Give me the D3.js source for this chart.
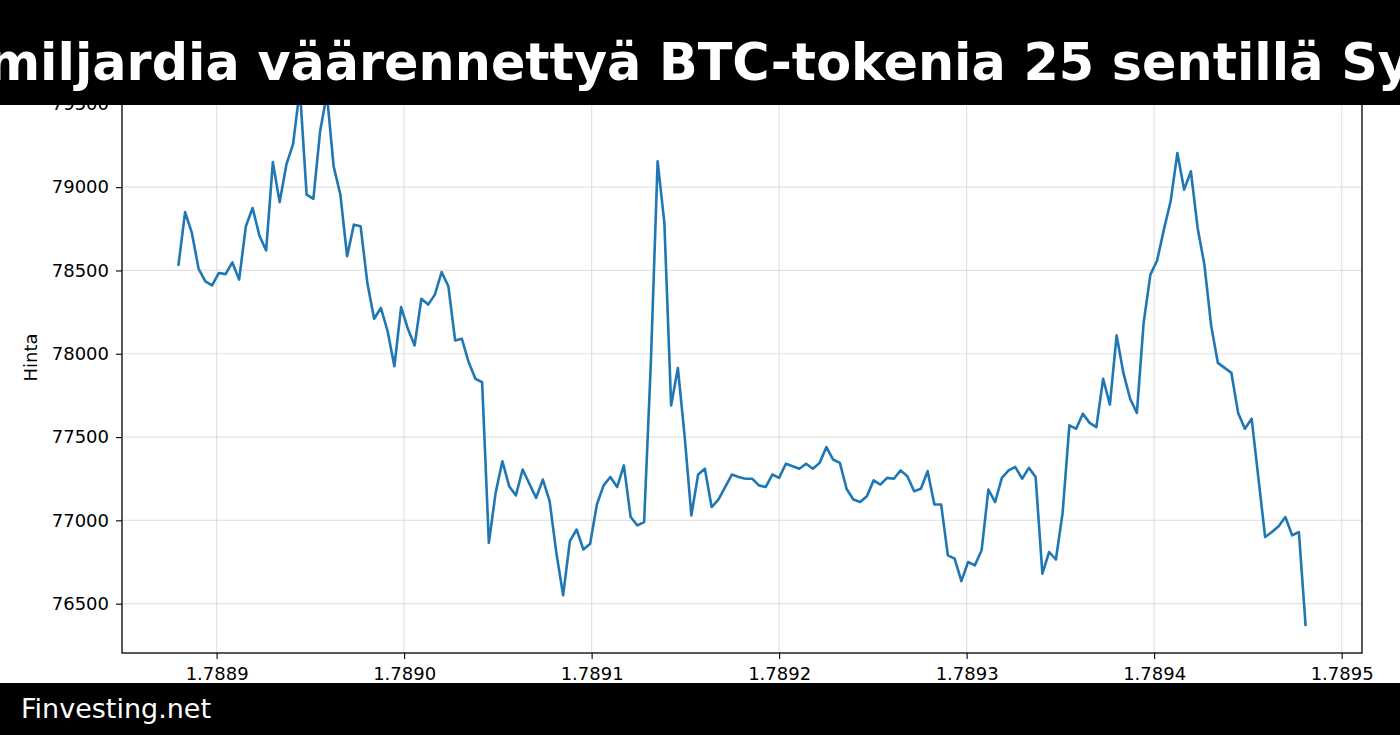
<!DOCTYPE html>
<html>
<head>
<meta charset="utf-8">
<script src="https://cdn.jsdelivr.net/npm/d3@7"></script>
<style>
  html, body { margin: 0; padding: 0; background: #fff; }
  svg { display: block; }
</style>
</head>
<body>
<svg id="chart" width="1400" height="735"></svg>
<script>
// ---- DATA ----
const titleText = "miljardia väärennettyä BTC-tokenia 25 sentillä Sy";
const footerText = "Finvesting.net";
const yLabel = "Hinta";
const startTime = 1788879600;   // seconds (first hourly sample)
const stepSeconds = 3600;       // hourly samples
const prices = [
  78527, 78850, 78725, 78510, 78435, 78410, 78485, 78478, 78548, 78445,
  78765, 78875, 78710, 78620, 79150, 78910, 79135, 79260, 79590, 78955,
  78930, 79335, 79560, 79125, 78955, 78585, 78775, 78765, 78425, 78210,
  78275, 78135, 77925, 78280, 78150, 78050, 78330, 78295, 78355, 78490,
  78405, 78080, 78090, 77950, 77850, 77830, 76865, 77165, 77355, 77205,
  77150, 77305, 77220, 77135, 77245, 77115, 76805, 76550, 76875, 76945,
  76825, 76860, 77095, 77210, 77260, 77200, 77330, 77020, 76970, 76990,
  77950, 79155, 78785, 77690, 77915, 77505, 77030, 77275, 77310, 77080,
  77125, 77200, 77275, 77260, 77250, 77250, 77210, 77200, 77275, 77255,
  77340, 77325, 77310, 77340, 77310, 77345, 77440, 77365, 77345, 77188,
  77125, 77110, 77145, 77240, 77215, 77255, 77250, 77300, 77265, 77175,
  77190, 77295, 77095, 77095, 76790, 76770, 76635, 76750, 76730, 76820,
  77185, 77110, 77255, 77300, 77320, 77250, 77315, 77260, 76680, 76810,
  76765, 77045, 77570, 77550, 77640, 77585, 77560, 77850, 77695, 78110,
  77885, 77730, 77645, 78185, 78475, 78560, 78745, 78915, 79205, 78985,
  79095, 78755, 78535, 78170, 77945, 77915, 77885, 77645, 77550, 77610,
  77255, 76900, 76930, 76965, 77020, 76910, 76930, 76365
];
const times = prices.map((_, i) => startTime + i * stepSeconds);
const xTickValues = [1.7889e9, 1.7890e9, 1.7891e9, 1.7892e9, 1.7893e9, 1.7894e9, 1.7895e9];
const yTickValues = [76500, 77000, 77500, 78000, 78500, 79000, 79500];

// ---- LAYOUT ----
const W = 1400, H = 735;
const plot = { left: 122, right: 1362, top: 62, bottom: 653 };
const lineColor = "#1f77b4";
const fontFamily = "'DejaVu Sans', sans-serif";

const svg = d3.select("#chart");

function padded(ext) {
  const r = ext[1] - ext[0];
  return [ext[0] - 0.05 * r, ext[1] + 0.05 * r];
}

const x = d3.scaleLinear().domain(padded(d3.extent(times))).range([plot.left, plot.right]);
const y = d3.scaleLinear().domain(padded(d3.extent(prices))).range([plot.bottom, plot.top]);

// background
svg.append("rect").attr("x", 0).attr("y", 0).attr("width", W).attr("height", H).attr("fill", "#fff");

// grid
const grid = svg.append("g");
grid.selectAll("line.gx").data(xTickValues).join("line")
  .attr("x1", d => x(d)).attr("x2", d => x(d))
  .attr("y1", plot.top).attr("y2", plot.bottom)
  .attr("stroke", "#b0b0b0").attr("stroke-opacity", 0.35).attr("stroke-width", 1.2);
grid.selectAll("line.gy").data(yTickValues).join("line")
  .attr("y1", d => y(d)).attr("y2", d => y(d))
  .attr("x1", plot.left).attr("x2", plot.right)
  .attr("stroke", "#b0b0b0").attr("stroke-opacity", 0.35).attr("stroke-width", 1.2);

// line
const line = d3.line().x((d, i) => x(times[i])).y(d => y(d));
svg.append("path").datum(prices)
  .attr("d", line)
  .attr("fill", "none")
  .attr("stroke", lineColor)
  .attr("stroke-width", 2.6)
  .attr("stroke-linejoin", "round")
  .attr("stroke-linecap", "butt");

// axes
const xAxis = d3.axisBottom(x).tickValues(xTickValues)
  .tickFormat(d => (d / 1e9).toFixed(4)).tickSizeOuter(0).tickSize(6).tickPadding(8);
const yAxis = d3.axisLeft(y).tickValues(yTickValues)
  .tickFormat(d => String(d)).tickSizeOuter(0).tickSize(6).tickPadding(7);

const gx = svg.append("g").attr("transform", `translate(0,${plot.bottom})`).call(xAxis);
const gy = svg.append("g").attr("transform", `translate(${plot.left},0)`).call(yAxis);
[gx, gy].forEach(g => {
  g.select(".domain").remove();
  g.selectAll(".tick line").attr("stroke", "#000").attr("stroke-width", 1.1);
  g.selectAll(".tick text").attr("fill", "#000")
    .style("font-family", fontFamily).style("font-size", "18px");
});

// spines
svg.append("rect")
  .attr("x", plot.left).attr("y", plot.top)
  .attr("width", plot.right - plot.left).attr("height", plot.bottom - plot.top)
  .attr("fill", "none").attr("stroke", "#000").attr("stroke-width", 1.3);

// y label
svg.append("text")
  .attr("transform", `translate(37,${(plot.top + plot.bottom) / 2}) rotate(-90)`)
  .attr("text-anchor", "middle")
  .style("font-family", fontFamily).style("font-size", "18px")
  .attr("fill", "#000")
  .text(yLabel);

// title bar
svg.append("rect").attr("x", 0).attr("y", 0).attr("width", W).attr("height", 105).attr("fill", "#000");
svg.append("text")
  .attr("x", 699).attr("y", 80)
  .attr("text-anchor", "middle")
  .style("font-family", fontFamily).style("font-size", "50.8px").style("font-weight", "bold")
  .attr("fill", "#fff")
  .text(titleText);

// footer bar
svg.append("rect").attr("x", 0).attr("y", 683).attr("width", W).attr("height", H - 683).attr("fill", "#000");
svg.append("text")
  .attr("x", 21).attr("y", 718)
  .style("font-family", fontFamily).style("font-size", "27px")
  .attr("fill", "#fff")
  .text(footerText);
</script>
</body>
</html>
